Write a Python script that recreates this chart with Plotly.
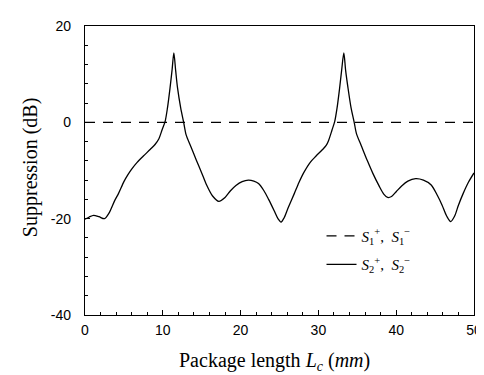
import plotly.graph_objects as go

# Package length Lc (mm)
lc = [0, 0.5, 1.1, 1.8, 2.5, 3.1, 3.8, 4.3, 5.0, 5.5, 6.0, 6.7, 7.5, 8.4, 9.0, 9.5, 9.9,
      10.3, 10.6, 10.92, 11.2, 11.42, 11.65, 11.89, 12.3, 12.68, 13.0, 13.6, 14.3, 15.0,
      15.6, 16.4, 17.2, 18.0, 18.7, 19.4, 20.2, 21.0, 21.7, 22.3, 23.0, 23.6, 24.3, 24.8,
      25.2, 25.6, 26.1, 26.9, 27.5, 28.1, 29.0, 29.7, 30.5, 31.0, 31.3, 31.75, 32.1, 32.4,
      32.72, 33.0, 33.27, 33.5, 33.8, 34.2, 34.6, 34.9, 35.5, 36.3, 37.0, 37.8, 38.4, 38.9,
      39.4, 40.0, 40.7, 41.5, 42.5, 43.5, 44.5, 45.3, 45.9, 46.5, 47.0, 47.5, 48.0, 48.6,
      49.3, 50.0]
# Suppression of S2+, S2- (dB)
s2 = [-20.1, -19.7, -19.3, -19.6, -20.0, -18.8, -16.3, -14.8, -12.3, -10.9, -9.7, -8.3,
      -7.0, -5.6, -4.6, -3.4, -1.6, 0.2, 3.0, 7.0, 11.0, 14.4, 10.8, 7.2, 3.0, 0.0, -2.6,
      -5.0, -7.8, -10.5, -12.9, -15.3, -16.4, -15.6, -14.2, -13.1, -12.3, -12.0, -12.2,
      -12.7, -14.2, -16.0, -18.3, -20.0, -20.7, -19.8, -17.8, -14.8, -12.5, -10.5, -8.2,
      -7.0, -5.7, -4.8, -3.8, -1.6, 0.2, 3.0, 7.0, 11.0, 14.4, 10.8, 7.2, 3.0, 0.0, -2.4,
      -4.8, -8.0, -10.6, -13.2, -14.9, -15.6, -15.4, -14.4, -13.2, -12.2, -11.7, -12.0,
      -13.0, -15.2, -17.2, -19.5, -20.6, -19.5, -17.2, -14.8, -12.4, -10.5]
# Suppression of S1+, S1- (dB)
lc1 = [0, 50]
s1 = [0, 0]

xticks = [0, 10, 20, 30, 40, 50]
xtext = ["0", "10", "20", "30", "40", "50"]
yticks = [-40, -20, 0, 20]
ytext = ["-40", "-20", "0", "20"]

fig = go.Figure()
fig.add_trace(go.Scatter(
    x=lc1, y=s1, mode="lines", legendgroup="a",
    name="<i>S</i><sub>1</sub><sup>+</sup>,  <i>S</i><sub>1</sub><sup>\u2212</sup>",
    line=dict(color="black", width=1.3, dash="10px,8px")))
fig.add_trace(go.Scatter(
    x=lc, y=s2, mode="lines", legendgroup="b",
    name="<i>S</i><sub>2</sub><sup>+</sup>,  <i>S</i><sub>2</sub><sup>\u2212</sup>",
    line=dict(color="black", width=1.3, shape="spline", smoothing=0.8)))

axis_common = dict(showgrid=False, zeroline=False, showline=True, linecolor="black",
                   linewidth=1.2, mirror=True, ticks="inside", tickcolor="black",
                   tickfont=dict(family="Liberation Sans, Arial, sans-serif", size=14, color="black"))

fig.update_xaxes(range=[0, 50], tickvals=xticks, ticktext=xtext, ticklen=5,
                 minor=dict(dtick=2, ticks="inside", ticklen=3, tickcolor="black"),
                 ticklabelstandoff=2, **axis_common)
fig.update_yaxes(range=[-40, 20], tickvals=yticks, ticktext=ytext, ticklen=5,
                 minor=dict(dtick=4, ticks="inside", ticklen=3, tickcolor="black"),
                 ticklabelstandoff=10, **axis_common)

fig.update_layout(
    width=484, height=375,
    margin=dict(l=77, r=10, t=11, b=68),
    paper_bgcolor="white", plot_bgcolor="white",
    showlegend=True,
    legend=dict(x=0.608, y=0.33, xanchor="left", yanchor="top",
                bgcolor="rgba(0,0,0,0)", borderwidth=0,
                font=dict(family="Liberation Serif, Times New Roman, serif", size=15, color="black"),
                tracegroupgap=6),
    annotations=[
        dict(text="Suppression (dB)", xref="paper", yref="paper", x=-0.14, y=0.51,
             textangle=-90, showarrow=False, xanchor="center", yanchor="middle",
             font=dict(family="Liberation Serif, Times New Roman, serif", size=20, color="black")),
        dict(text="Package length <i>L</i><sub><i>c</i></sub> (<i>mm</i>)", xref="paper", yref="paper",
             x=0.487, y=-0.16, showarrow=False, xanchor="center", yanchor="middle",
             font=dict(family="Liberation Serif, Times New Roman, serif", size=20, color="black")),
    ],
)

fig.write_html("out.html")
